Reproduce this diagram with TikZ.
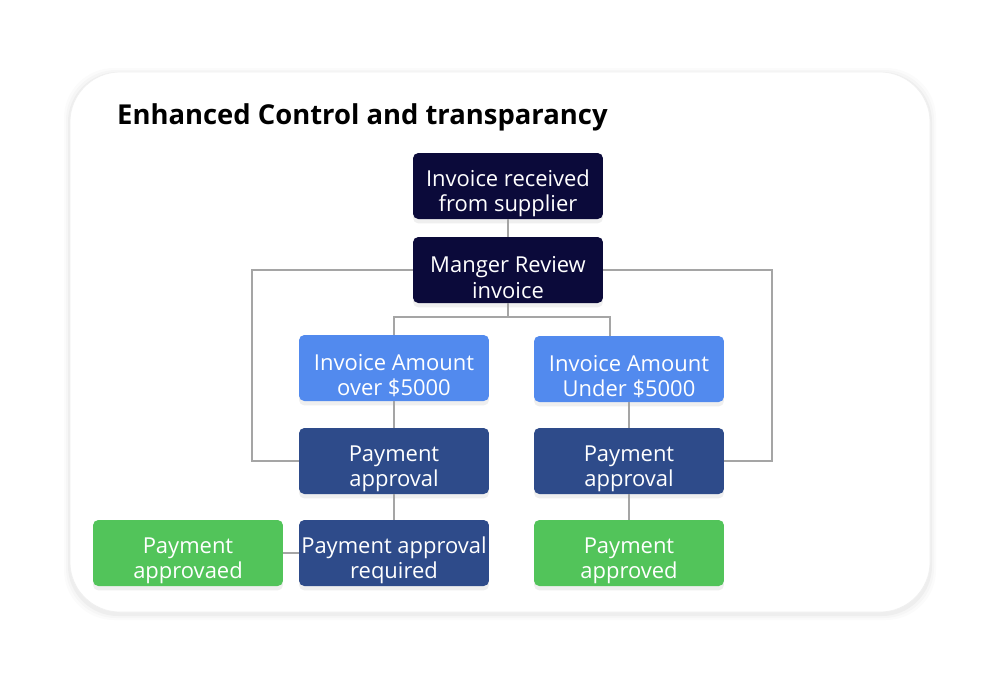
\documentclass[tikz,border=0pt]{standalone}
\usepackage{fontspec}
\setmainfont{Open Sans}
\usetikzlibrary{shadows,calc}
\definecolor{navy}{HTML}{0B0A3A}
\definecolor{lightblue}{HTML}{528AEE}
\definecolor{midblue}{HTML}{2E4B8A}
\definecolor{okgreen}{HTML}{52C45A}
\definecolor{wire}{HTML}{A5A5A5}
\newcommand\lift{\rule{0pt}{18pt}}
\tikzset{
  stepbox/.style={rounded corners=3pt, text=white, align=center,
    font=\fontsize{12.5}{14.5}\selectfont, minimum width=3.8cm,
    minimum height=1.32cm, inner sep=0pt,
    drop shadow={opacity=0.12, shadow xshift=0pt, shadow yshift=-2.5pt}},
  wire/.style={draw=wire, line width=1.2pt},
}
\begin{document}
\begin{tikzpicture}[x=0.02cm, y=-0.02cm]
  \useasboundingbox (0,0) rectangle (1000,681);
  % card with soft shadow
  \foreach \d/\o in {6/0.015, 4/0.02, 2/0.03}
    \fill[black, opacity=\o, rounded corners=1cm]
      (70-\d,72-\d+2) rectangle (930+\d,612+\d+2);
  \fill[white, draw=gray!12, rounded corners=1cm] (70,72) rectangle (930,612);
  \node[anchor=base west, font=\fontsize{15.6}{18}\selectfont\bfseries] (title)
    at (111,124) {Enhanced Control and transparancy};
  % boxes
  \node[stepbox, fill=navy] (sup) at (508,186) {\lift Invoice received\\from supplier};
  \node[stepbox, fill=navy] (mgr) at (508,270) {\lift Manger Review\\invoice};
  \node[stepbox, fill=lightblue] (amtL) at (394,368) {\lift Invoice Amount\\over \$5000};
  \node[stepbox, fill=lightblue] (amtR) at (629,369) {\lift Invoice Amount\\Under \$5000};
  \node[stepbox, fill=midblue] (payL) at (394,461) {\lift Payment\\approval};
  \node[stepbox, fill=midblue] (payR) at (629,461) {\lift Payment\\approval};
  \node[stepbox, fill=midblue] (req) at (394,553) {\lift Payment approval\\required};
  \node[stepbox, fill=okgreen] (okL) at (188,553) {\lift Payment\\approvaed};
  \node[stepbox, fill=okgreen] (okR) at (629,553) {\lift Payment\\approved};
  % connectors
  \draw[wire] (sup) -- (mgr);
  \draw[wire] (mgr.south) -- ++(0,14) coordinate (bus);
  \draw[wire] (bus) -| (amtL.north);
  \draw[wire] (bus) -| ($(amtR.north)+(-19,0)$);
  \draw[wire] (mgr.west) -- ++(-161,0) |- (payL.west);
  \draw[wire] (mgr.east) -- ++(169,0) |- (payR.east);
  \draw[wire] (amtL) -- (payL);
  \draw[wire] (amtR) -- (payR);
  \draw[wire] (payL) -- (req);
  \draw[wire] (payR) -- (okR);
  \draw[wire] (req) -- (okL);
\end{tikzpicture}
\end{document}
